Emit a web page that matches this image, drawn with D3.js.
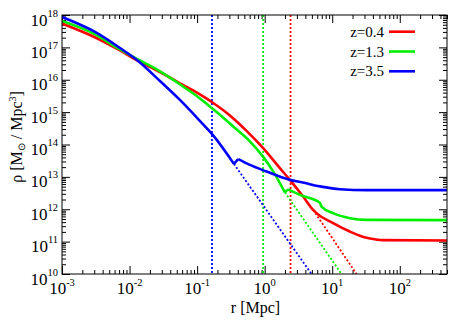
<!DOCTYPE html>
<html><head><meta charset="utf-8">
<script src="https://cdn.jsdelivr.net/npm/d3@7"></script>
<style>
html,body{margin:0;padding:0;background:#fff;}
svg{display:block;font-family:"Liberation Serif","Times New Roman",serif;}
</style></head>
<body>
<svg id="c" width="463" height="324"></svg>
<script>
// ---- data (r in Mpc, rho in Msun/Mpc^3) ----
const seriesNames = ["z=0.4", "z=1.3", "z=3.5"];
const seriesColors = ["#ff0000", "#00ee00", "#0000ff"];

const z04Solid = [[0.001,5.47e17],[0.0029,2.17e17],[0.00721,8.02e16],[0.01285,3.94e16],[0.02243,2.23e16],
  [0.06995,5.99e15],[0.110,3.52e15],[0.173,1.92e15],[0.3056,7.91e14],[0.5398,2.63e14],[0.950,7.69e13],
  [1.679,1.86e13],[2.360,8.08e12],[3.711,2.47e12],[5.218,9.58e11],[5.859,7.58e11],[10.31,3.72e11],
  [18.21,2.05e11],[32.17,1.31e11],[42.7,1.18e11],[56.6,1.11e11],[500,1.08e11]];
const z04Dotted = [[5.218,9.58e11],[22.88,1e10]];

const z13Solid = [[0.001,6.53e17],[0.0029,2.69e17],[0.00721,8.61e16],[0.01285,4.39e16],[0.02243,2.40e16],
  [0.06995,5.20e15],[0.110,2.65e15],[0.1943,1.01e15],[0.342,3.62e14],[0.6039,1.25e14],[0.950,4.14e13],
  [1.336,1.48e13],[1.990,3.33e12],[2.226,4.11e12],[3.317,2.78e12],[6.556,1.58e12],[6.946,1.21e12],
  [10.31,7.58e11],[18.21,5.31e11],[32.17,4.71e11],[500,4.61e11]];
const z13Dotted = [[1.990,3.33e12],[13.73,1e10]];

const z35Solid = [[0.001,8.68e17],[0.0029,3.21e17],[0.00721,9.58e16],[0.01285,4.08e16],[0.02818,9.18e15],
  [0.05567,2.38e15],[0.110,5.35e14],[0.173,1.91e14],[0.3503,2.52e13],[0.4055,3.52e13],[0.6039,2.34e13],
  [1.067,1.46e13],[2.360,8.08e12],[4.167,6.39e12],[4.663,5.95e12],[7.26,4.91e12],[12.95,4.17e12],
  [32.17,3.89e12],[500,3.89e12]];
const z35Dotted = [[0.3503,2.52e13],[4.94,1e10]];

const virialRadii = [2.416, 0.95, 0.166];

const xTickValues = [1e-3,1e-2,1e-1,1e0,1e1,1e2];
const xTickExps = ["-3","-2","-1","0","1","2"];
const yTickValues = [1e10,1e11,1e12,1e13,1e14,1e15,1e16,1e17,1e18];
const yTickExps = ["10","11","12","13","14","15","16","17","18"];

// ---- layout ----
const L=62, R=447, T=15, B=274;
const svg = d3.select("#c");
const x = d3.scaleLog().domain([1e-3,500]).range([L,R]);
const y = d3.scaleLog().domain([1e10,1e18]).range([B,T]);

const xMinor=[], yMinor=[];
for (let d=-3; d<=2; d++) for (let k=2;k<=9;k++){ const v=k*Math.pow(10,d); if (v<=500) xMinor.push(v); }
for (let d=10; d<=17; d++) for (let k=2;k<=9;k++) yMinor.push(k*Math.pow(10,d));

function ticks(axis, tr){
  const g = svg.append("g").attr("transform",tr).call(axis);
  g.select(".domain").remove();
  g.selectAll("line").attr("stroke","#000").attr("stroke-width",1);
  g.selectAll("text").remove();
}
ticks(d3.axisBottom(x).tickValues(xTickValues).tickSize(-8).tickSizeOuter(0), `translate(0,${B})`);
ticks(d3.axisBottom(x).tickValues(xMinor).tickSize(-4).tickSizeOuter(0), `translate(0,${B})`);
ticks(d3.axisTop(x).tickValues(xTickValues).tickSize(-8).tickSizeOuter(0), `translate(0,${T})`);
ticks(d3.axisTop(x).tickValues(xMinor).tickSize(-4).tickSizeOuter(0), `translate(0,${T})`);
ticks(d3.axisLeft(y).tickValues(yTickValues).tickSize(-8).tickSizeOuter(0), `translate(${L},0)`);
ticks(d3.axisLeft(y).tickValues(yMinor).tickSize(-4).tickSizeOuter(0), `translate(${L},0)`);
ticks(d3.axisRight(y).tickValues(yTickValues).tickSize(-8).tickSizeOuter(0), `translate(${R},0)`);
ticks(d3.axisRight(y).tickValues(yMinor).tickSize(-4).tickSizeOuter(0), `translate(${R},0)`);

// tick labels
xTickValues.forEach((v,i)=>{
  const t = svg.append("text").attr("x",x(v)).attr("y",B+20).attr("text-anchor","middle").attr("fill","#000");
  t.append("tspan").attr("font-size",17).text("10");
  t.append("tspan").attr("font-size",10.5).attr("dy",-8).text(xTickExps[i]);
});
yTickValues.forEach((v,i)=>{
  const t = svg.append("text").attr("x",L-4).attr("y",y(v)+10.5).attr("text-anchor","end").attr("fill","#000");
  t.append("tspan").attr("font-size",17).text("10");
  t.append("tspan").attr("font-size",10.5).attr("dy",-9).text(yTickExps[i]);
});

// axis titles
svg.append("text").attr("x",(L+R)/2+1).attr("y",313).attr("text-anchor","middle")
  .attr("font-size",16).text("r [Mpc]");
const yt = svg.append("text").attr("transform","translate(22,137) rotate(-90)").attr("text-anchor","middle").attr("font-size",16);
yt.append("tspan").text("ρ [M");
yt.append("tspan").attr("font-size",10).attr("dy",3).text("⊙");
yt.append("tspan").attr("dy",-3).text(" / Mpc");
yt.append("tspan").attr("font-size",10).attr("dy",-6).text("3");
yt.append("tspan").attr("dy",6).text("]");

// clip
svg.append("clipPath").attr("id","pc").append("rect").attr("x",L).attr("y",T).attr("width",R-L).attr("height",B-T);
const plot = svg.append("g").attr("clip-path","url(#pc)");

const smooth = d3.line().x(d=>x(d[0])).y(d=>y(d[1])).curve(d3.curveMonotoneX);
const straight = d3.line().x(d=>x(d[0])).y(d=>y(d[1]));

// split a series into monotone runs so kinks stay sharp
function pathFor(d){
  const runs=[]; let cur=[d[0]]; let dir=0;
  for (let i=1;i<d.length;i++){
    const s = Math.sign(d[i][1]-d[i-1][1]);
    if (dir!==0 && s!==0 && s!==dir){ runs.push(cur); cur=[d[i-1]]; }
    if (s!==0) dir=s;
    cur.push(d[i]);
  }
  runs.push(cur);
  return runs.map(r => r.length>2 ? smooth(r) : straight(r)).join("");
}

// vertical dotted lines
virialRadii.forEach((v,i)=>{
  plot.append("line").attr("x1",x(v)).attr("x2",x(v)).attr("y1",T).attr("y2",B)
    .attr("stroke",seriesColors[i]).attr("stroke-width",1.8).attr("stroke-dasharray","2,2");
});

const dotted = [z04Dotted, z13Dotted, z35Dotted];
const solid = [z04Solid, z13Solid, z35Solid];
dotted.forEach((d,i)=>{
  plot.append("path").attr("d",straight(d)).attr("fill","none").attr("stroke",seriesColors[i])
    .attr("stroke-width",1.8).attr("stroke-dasharray","2,2");
});
solid.forEach((d,i)=>{
  plot.append("path").attr("d",pathFor(d)).attr("fill","none").attr("stroke",seriesColors[i])
    .attr("stroke-width",2.6).attr("stroke-linejoin","round");
});

// frame
svg.append("rect").attr("x",L).attr("y",T).attr("width",R-L).attr("height",B-T)
  .attr("fill","none").attr("stroke","#000").attr("stroke-width",1);

// legend
seriesNames.forEach((n,i)=>{
  const yy = 31.7 + i*19.8;
  svg.append("text").attr("x",384).attr("y",yy+5).attr("text-anchor","end").attr("font-size",15).text(n);
  svg.append("line").attr("x1",389).attr("x2",415).attr("y1",yy).attr("y2",yy)
    .attr("stroke",seriesColors[i]).attr("stroke-width",2.6);
});
</script>
</body></html>
